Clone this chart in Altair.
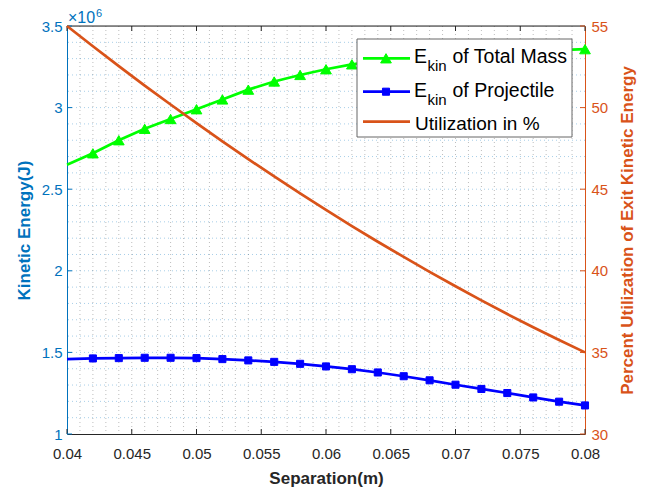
import altair as alt
import pandas as pd

# ---------------- data ----------------
separation = [0.040, 0.042, 0.044, 0.046, 0.048, 0.050, 0.052, 0.054, 0.056, 0.058,
              0.060, 0.062, 0.064, 0.066, 0.068, 0.070, 0.072, 0.074, 0.076, 0.078, 0.080]
# kinetic energies in units of 1e6 J
ek_total = [2.65, 2.72, 2.80, 2.87, 2.93, 2.99, 3.05, 3.11, 3.16, 3.20,
            3.235, 3.265, 3.285, 3.30, 3.312, 3.322, 3.331, 3.339, 3.346, 3.352, 3.358]
ek_proj = [1.459, 1.463, 1.465, 1.467, 1.467, 1.465, 1.459, 1.451, 1.442, 1.430,
           1.414, 1.397, 1.377, 1.354, 1.329, 1.302, 1.276, 1.251, 1.224, 1.198, 1.175]
# utilization in %
util = [55.0, 53.76, 52.54, 51.35, 50.19, 49.05, 47.93, 46.84, 45.78, 44.74,
        43.73, 42.74, 41.78, 40.85, 39.93, 39.05, 38.19, 37.35, 36.54, 35.76, 35.0]

x_ticks = [0.04, 0.045, 0.05, 0.055, 0.06, 0.065, 0.07, 0.075, 0.08]
yl_ticks = [1, 1.5, 2, 2.5, 3, 3.5]
yr_ticks = [30, 35, 40, 45, 50, 55]
x_minor = [round(0.04 + 0.001 * i, 3) for i in range(1, 40)]
yl_minor = [round(1.0 + 0.1 * i, 1) for i in range(1, 25)]

# ---------------- styling ----------------
W, H = 518, 408
BLUE_AX = "#0072BD"
ORANGE = "#D95319"
DARK = "#262626"
GREEN = "#00FF00"
BLUE = "#0000FF"
FONT = "Liberation Sans"

df = pd.DataFrame({"sep": separation, "total": ek_total, "proj": ek_proj, "util": util})
df_m = df[df["sep"] > 0.0415]

xs = alt.Scale(domain=[0.04, 0.08], nice=False, zero=False)
yls = alt.Scale(domain=[1, 3.5], nice=False, zero=False)
yrs = alt.Scale(domain=[30, 55], nice=False, zero=False)

x_axis = alt.Axis(values=x_ticks, format="~g", title="Separation(m)", domainColor=DARK,
                  domainWidth=1, ticks=False, tickSize=0, labelPadding=12, labelFlush=False,
                  labelOverlap=False, labelFontSize=15, labelColor=DARK, grid=False,
                  titleFontSize=17, titleFontWeight="bold", titleColor=DARK,
                  titleX=W / 2, titleY=49, titleBaseline="alphabetic", titleAlign="center")
yl_axis = alt.Axis(values=yl_ticks, format="~g", title="Kinetic Energy(J)", domainColor=BLUE_AX,
                   domainWidth=1, ticks=False, tickSize=0, labelPadding=5, labelFlush=False,
                   labelOverlap=False, labelFontSize=15, labelColor=BLUE_AX, grid=False,
                   titleFontSize=17, titleFontWeight="bold", titleColor=BLUE_AX,
                   titleAngle=270, titleX=-38, titleY=H / 2, titleBaseline="alphabetic",
                   titleAlign="center")
yr_axis = alt.Axis(values=yr_ticks, format="~g", orient="right",
                   title="Percent Utilization of Exit Kinetic Energy", domainColor=ORANGE,
                   domainWidth=1, ticks=False, tickSize=0, labelPadding=6, labelFlush=False,
                   labelOverlap=False, labelFontSize=15, labelColor=ORANGE, grid=False,
                   titleFontSize=17, titleFontWeight="bold", titleColor=ORANGE,
                   titleAngle=270, titleX=47, titleY=H / 2, titleBaseline="alphabetic",
                   titleAlign="center")


def X(field):
    return alt.X(field, scale=xs, axis=x_axis)


def YL(field):
    return alt.Y(field, scale=yls, axis=yl_axis)


def YR(field):
    return alt.Y(field, scale=yrs, axis=yr_axis)


one = pd.DataFrame({"k": [0]})

# grids
vgrid = alt.Chart(pd.DataFrame({"v": x_minor})).mark_rule(
    color=DARK, strokeOpacity=0.3, strokeDash=[1, 3], strokeWidth=1
).encode(x=X("v:Q"))
hgrid = alt.Chart(pd.DataFrame({"h": yl_minor})).mark_rule(
    color=BLUE_AX, strokeOpacity=0.35, strokeDash=[1, 3], strokeWidth=1
).encode(y=YL("h:Q"))

top_border = alt.Chart(one).mark_rule(color=DARK, strokeWidth=1).encode(
    x=alt.value(0), x2=alt.value(W), y=alt.value(0))

xt = pd.DataFrame({"t": x_ticks})
bottom_ticks = alt.Chart(xt).mark_rule(color=DARK).encode(
    x=X("t:Q"), y=alt.value(H), y2=alt.value(H - 5))
top_ticks = alt.Chart(xt).mark_rule(color=DARK).encode(
    x=X("t:Q"), y=alt.value(0), y2=alt.value(5))
left_ticks = alt.Chart(pd.DataFrame({"t": yl_ticks})).mark_rule(color=BLUE_AX).encode(
    y=YL("t:Q"), x=alt.value(0), x2=alt.value(5))
right_ticks = alt.Chart(pd.DataFrame({"t": yr_ticks})).mark_rule(color=ORANGE).encode(
    y=YR("t:Q"), x=alt.value(W), x2=alt.value(W - 5))

TRI_SIZE = 115
SQ_SIZE = 50

base = alt.Chart(df)
green_line = base.mark_line(color=GREEN, strokeWidth=2.7).encode(x=X("sep:Q"), y=YL("total:Q"))
green_pts = alt.Chart(df_m).mark_point(shape="triangle-up", filled=True, size=TRI_SIZE,
                                        color=GREEN, opacity=1, stroke=GREEN,
                                        strokeWidth=1).encode(x=X("sep:Q"), y=YL("total:Q"))
blue_line = base.mark_line(color=BLUE, strokeWidth=2.7).encode(x=X("sep:Q"), y=YL("proj:Q"))
blue_pts = alt.Chart(df_m).mark_point(shape="square", filled=True, size=SQ_SIZE, color=BLUE,
                                       opacity=1, stroke=BLUE, strokeWidth=1).encode(
    x=X("sep:Q"), y=YL("proj:Q"))

orange_line = base.mark_line(color=ORANGE, strokeWidth=2.7).encode(x=X("sep:Q"), y=YR("util:Q"))

left = alt.layer(hgrid, vgrid, top_border, bottom_ticks, top_ticks, left_ticks,
                 green_line, green_pts, blue_line, blue_pts)
right = alt.layer(orange_line, right_ticks)


# ---------------- legend and exponent label ----------------
def txt(s, x, y, size=19, color="black"):
    return alt.Chart(one).mark_text(align="left", baseline="alphabetic", font=FONT,
                                    fontSize=size, color=color).encode(
        x=alt.value(x), y=alt.value(y), text=alt.value(s))


leg_box = alt.Chart(one).mark_rect(fill="white", stroke="#666666", strokeWidth=1).encode(
    x=alt.value(290), x2=alt.value(505), y=alt.value(13), y2=alt.value(111))
r1, r2, r3 = 32.3, 65.7, 95.7
leg_l1 = alt.Chart(one).mark_rule(color=GREEN, strokeWidth=2.7).encode(
    x=alt.value(296), x2=alt.value(343), y=alt.value(r1))
leg_l2 = alt.Chart(one).mark_rule(color=BLUE, strokeWidth=2.7).encode(
    x=alt.value(296), x2=alt.value(343), y=alt.value(r2))
leg_l3 = alt.Chart(one).mark_rule(color=ORANGE, strokeWidth=2.7).encode(
    x=alt.value(296), x2=alt.value(343), y=alt.value(r3))
leg_m1 = alt.Chart(one).mark_point(shape="triangle-up", filled=True, size=TRI_SIZE, color=GREEN,
                                   opacity=1, stroke=GREEN, strokeWidth=1).encode(
    x=alt.value(319), y=alt.value(r1))
leg_m2 = alt.Chart(one).mark_point(shape="square", filled=True, size=SQ_SIZE, color=BLUE,
                                   opacity=1, stroke=BLUE, strokeWidth=1).encode(
    x=alt.value(319), y=alt.value(r2))

legend = alt.layer(
    leg_box, leg_l1, leg_l2, leg_l3, leg_m1, leg_m2,
    txt("E", 347, 37.3, size=19.5), txt("kin", 360.5, 44.7, size=15),
    txt("of Total Mass", 385.5, 37.3, size=19.5),
    txt("E", 347, 70.7, size=19.5), txt("kin", 360.5, 79, size=15),
    txt("of Projectile", 385.5, 70.7, size=19.5),
    txt("Utilization in %", 348, 104),
    txt("×10", 1, -3, size=16, color=BLUE_AX), txt("6", 29, -9.3, size=11, color=BLUE_AX),
)

chart = alt.layer(left, right, legend).resolve_scale(y="independent").properties(
    width=W, height=H,
    autosize=alt.AutoSizeParams(type="none"),
    padding={"left": 59, "top": 18, "right": 56, "bottom": 54},
).configure_view(stroke=None).configure_axis(labelFont=FONT, titleFont=FONT).configure(
    background="white")

chart.save("out.html", embed_options={"renderer": "svg", "actions": False})
